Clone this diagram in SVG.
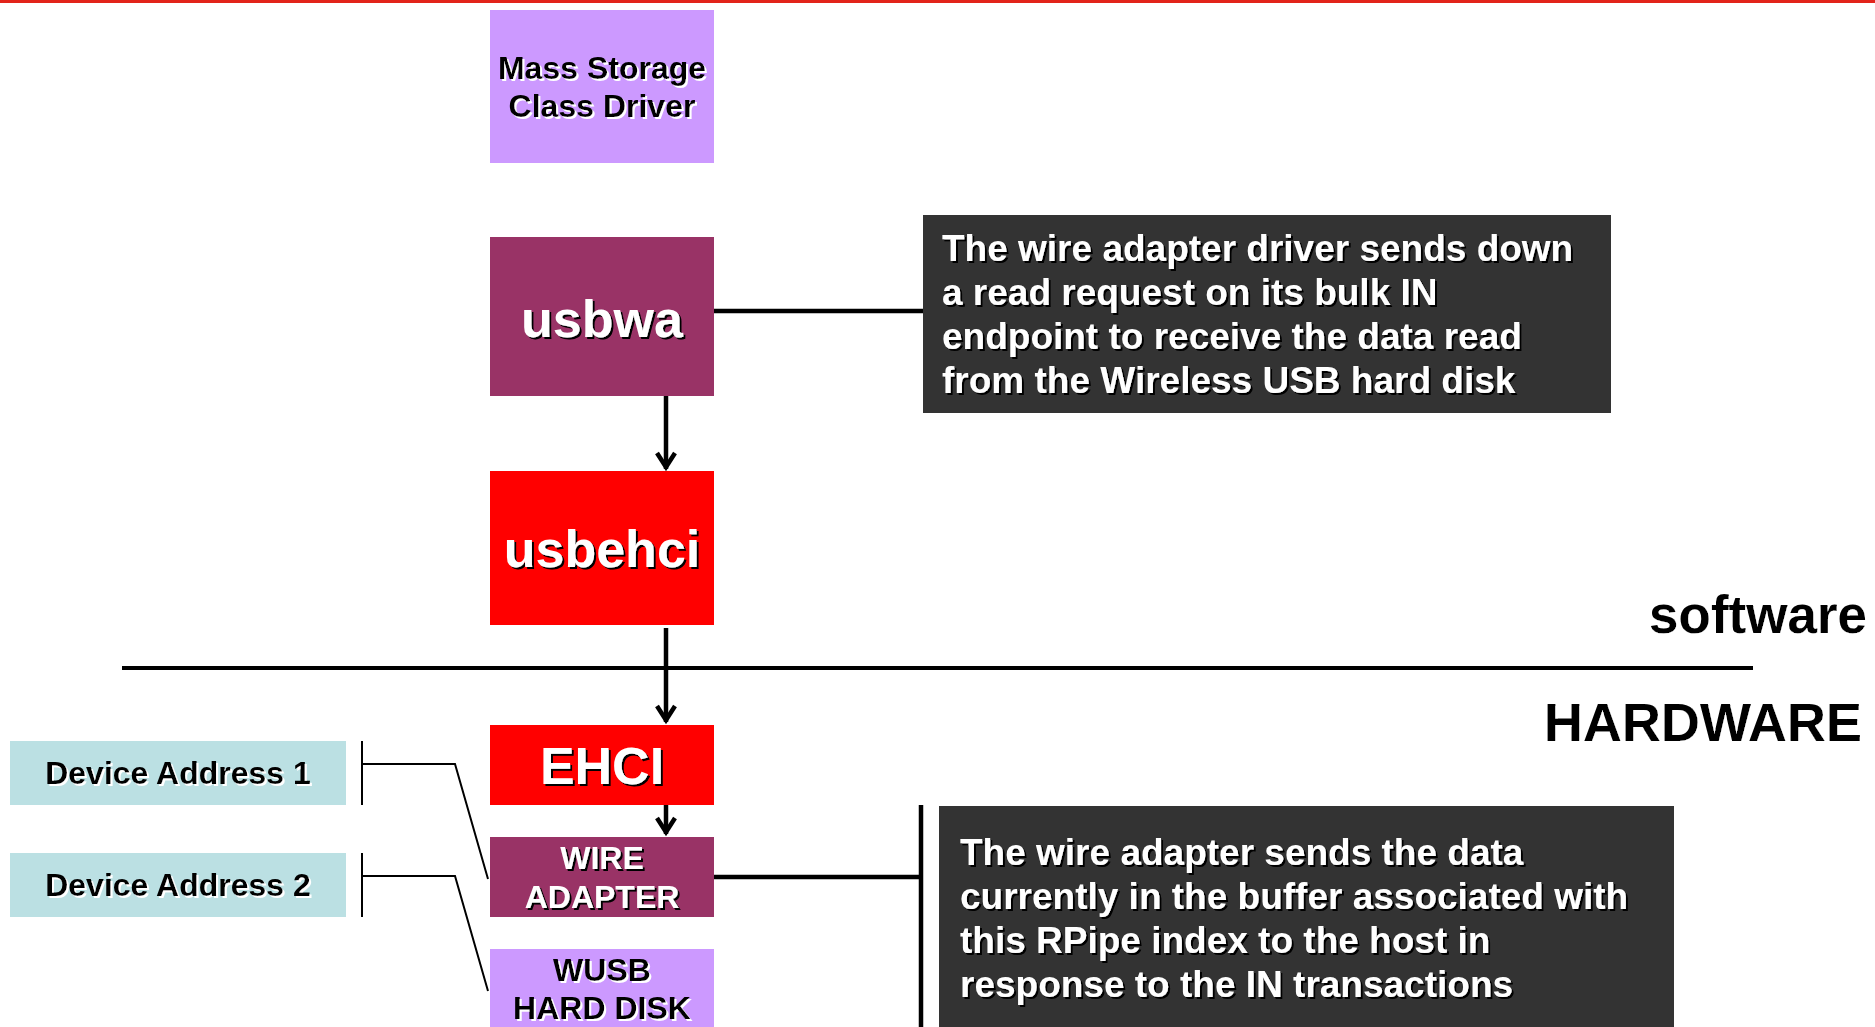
<svg xmlns="http://www.w3.org/2000/svg" width="1875" height="1027" viewBox="0 0 1875 1027">
  <defs>
    <style>
      text { font-family: "Liberation Sans", Arial, sans-serif; font-weight: bold; }
      .wt { fill: #ffffff; filter: url(#shD); }
      .bt { fill: #000000; filter: url(#shL); }
      .mid { text-anchor: middle; }
      .note { font-size: 37px; }
      .c4 { fill: none; stroke: #000; stroke-width: 4.5; }
      .c2 { fill: none; stroke: #000; stroke-width: 2; }
    </style>
    <filter id="shD" x="-10%" y="-20%" width="120%" height="140%">
      <feOffset in="SourceAlpha" dx="2" dy="2" result="o"/>
      <feFlood flood-color="#000000"/>
      <feComposite in2="o" operator="in" result="s"/>
      <feMerge><feMergeNode in="s"/><feMergeNode in="SourceGraphic"/></feMerge>
    </filter>
    <filter id="shL" x="-10%" y="-20%" width="120%" height="140%">
      <feOffset in="SourceAlpha" dx="2" dy="2" result="o"/>
      <feFlood flood-color="#ffffff"/>
      <feComposite in2="o" operator="in" result="s"/>
      <feMerge><feMergeNode in="s"/><feMergeNode in="SourceGraphic"/></feMerge>
    </filter>
    <marker id="arr" markerUnits="userSpaceOnUse" viewBox="-22 -13 28 26" refX="0" refY="0" markerWidth="28" markerHeight="26" orient="auto">
      <path d="M-16,-9 L-2,0 L-16,9" fill="none" stroke="#000" stroke-width="4.5"/>
    </marker>
  </defs>

  <rect x="0" y="0" width="1875" height="1027" fill="#ffffff"/>
  <rect x="0" y="0" width="1875" height="3" fill="#e2231a"/>

  <!-- software / hardware divider -->
  <line x1="122" y1="668" x2="1753" y2="668" stroke="#000" stroke-width="4"/>
  <text x="1867" y="633" class="bt" font-size="53" text-anchor="end">software</text>
  <text x="1862" y="741" class="bt" font-size="54" text-anchor="end">HARDWARE</text>

  <g id="connectors">
    <path class="c4" d="M666,396 V469" marker-end="url(#arr)"/>
    <path class="c4" d="M666,628 V722" marker-end="url(#arr)"/>
    <path class="c4" d="M666,805 V834" marker-end="url(#arr)"/>
    <path class="c4" d="M714,311 H923"/>
    <path class="c4" d="M714,877 H921"/>
    <path class="c4" d="M921,805 V1027"/>
    <path class="c2" d="M362,741 V805"/>
    <path class="c2" d="M362,764 H455 L488,879"/>
    <path class="c2" d="M362,853 V917"/>
    <path class="c2" d="M362,876 H455 L488,991"/>
  </g>

  <g id="mass-storage">
    <rect x="490" y="10" width="224" height="153" fill="#cc99ff"/>
    <text x="602" y="79" class="bt mid" font-size="32">Mass Storage</text>
    <text x="602" y="117" class="bt mid" font-size="32">Class Driver</text>
  </g>

  <g id="usbwa">
    <rect x="490" y="237" width="224" height="159" fill="#993366"/>
    <text x="602" y="337" class="wt mid" font-size="52">usbwa</text>
  </g>

  <g id="usbehci">
    <rect x="490" y="471" width="224" height="154" fill="#ff0000"/>
    <text x="602" y="567" class="wt mid" font-size="52">usbehci</text>
  </g>

  <g id="ehci">
    <rect x="490" y="725" width="224" height="80" fill="#ff0000"/>
    <text x="602" y="784" class="wt mid" font-size="52">EHCI</text>
  </g>

  <g id="wire-adapter">
    <rect x="490" y="837" width="224" height="80" fill="#993366"/>
    <text x="602" y="869" class="wt mid" font-size="32">WIRE</text>
    <text x="602" y="908" class="wt mid" font-size="32">ADAPTER</text>
  </g>

  <g id="wusb-hard-disk">
    <rect x="490" y="949" width="224" height="78" fill="#cc99ff"/>
    <text x="602" y="981" class="bt mid" font-size="32">WUSB</text>
    <text x="602" y="1019" class="bt mid" font-size="32">HARD DISK</text>
  </g>

  <g id="device-address-1">
    <rect x="10" y="741" width="336" height="64" fill="#bbe0e3"/>
    <text x="178" y="784" class="bt mid" font-size="32">Device Address 1</text>
  </g>

  <g id="device-address-2">
    <rect x="10" y="853" width="336" height="64" fill="#bbe0e3"/>
    <text x="178" y="896" class="bt mid" font-size="32">Device Address 2</text>
  </g>

  <g id="note-driver">
    <rect x="923" y="215" width="688" height="198" fill="#333333"/>
    <text class="wt note" x="942" y="261">The wire adapter driver sends down</text>
    <text class="wt note" x="942" y="305">a read request on its bulk IN</text>
    <text class="wt note" x="942" y="349">endpoint to receive the data read</text>
    <text class="wt note" x="942" y="393">from the Wireless USB hard disk</text>
  </g>

  <g id="note-adapter">
    <rect x="939" y="806" width="735" height="221" fill="#333333"/>
    <text class="wt note" x="960" y="865">The wire adapter sends the data</text>
    <text class="wt note" x="960" y="909">currently in the buffer associated with</text>
    <text class="wt note" x="960" y="953">this RPipe index to the host in</text>
    <text class="wt note" x="960" y="997">response to the IN transactions</text>
  </g>
</svg>
